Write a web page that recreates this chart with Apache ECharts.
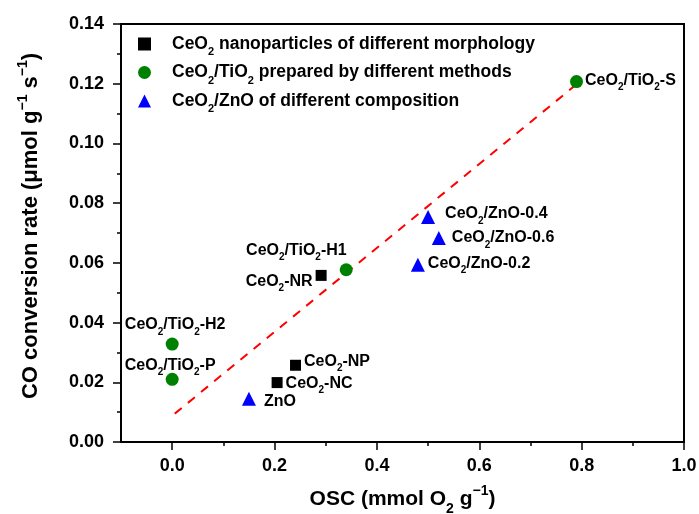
<!DOCTYPE html>
<html><head><meta charset="utf-8">
<script src="https://cdn.jsdelivr.net/npm/echarts@6/dist/echarts.min.js"></script>
<style>html,body{margin:0;padding:0;background:#fff}#c{width:699px;height:514px}</style>
</head><body><div id="c"></div>
<script>
// ---- data ----
const legendNames = ['CeO2 nanoparticles of different morphology', 'CeO2/TiO2 prepared by different methods', 'CeO2/ZnO of different composition'];
const squareNames = ['CeO2-NR', 'CeO2-NP', 'CeO2-NC'];
const squareX = [0.291, 0.241, 0.205];
const squareY = [0.0558, 0.0257, 0.0199];
const circleNames = ['CeO2/TiO2-H1', 'CeO2/TiO2-H2', 'CeO2/TiO2-P', 'CeO2/TiO2-S'];
const circleX = [0.340, 0.0, 0.0, 0.790];
const circleY = [0.0577, 0.0328, 0.0210, 0.1207];
const triNames = ['ZnO', 'CeO2/ZnO-0.4', 'CeO2/ZnO-0.6', 'CeO2/ZnO-0.2'];
const triX = [0.150, 0.500, 0.521, 0.480];
const triY = [0.0145, 0.0754, 0.0683, 0.0594];
const fitX = [0.005, 0.790];
const fitY = [0.0095, 0.1198];
const xTickValues = [0.0, 0.2, 0.4, 0.6, 0.8, 1.0];
const xMinorTickValues = [0.1, 0.3, 0.5, 0.7, 0.9];
const xTitle = 'OSC (mmol O2 g−1)';
const yTitle = 'CO conversion rate (μmol g−1 s−1)';

// ---- styles ----
const FONT = '"Liberation Sans", Arial, sans-serif';
function richStyles(size, lh, subShift, supH) {
  return {
    b: {fontSize: size, fontWeight: 'bold', fontFamily: FONT, color: '#000', lineHeight: lh},
    s: {fontSize: Math.round(size * 0.65), fontWeight: 'bold', fontFamily: FONT, color: '#000', verticalAlign: 'bottom', height: subShift || 4},
    p: {fontSize: Math.round(size * 0.65), fontWeight: 'bold', fontFamily: FONT, color: '#000', verticalAlign: 'top', height: supH || 8},
    g: {width: 16}
  };
}
function richify(t) {
  let s = '{b|' + t.replace(/O2/g, 'O}{s|2}{b|').replace(/−1/g, '}{p|−1}{b|') + '}';
  return s.replace(/\{b\|\}/g, '');
}
const labelCfg = {
  'CeO2-NR': {position: 'left', distance: 3, offset: [0, 6]},
  'CeO2-NP': {position: 'right', distance: 3, offset: [0, -4]},
  'CeO2-NC': {position: 'right', distance: 3, offset: [0, 1]},
  'CeO2/TiO2-H1': {position: 'left', distance: 5, offset: [12, -19]},
  'CeO2/TiO2-H2': {position: 'inside', offset: [3, -19]},
  'CeO2/TiO2-P': {position: 'inside', offset: [-2, -14]},
  'CeO2/TiO2-S': {position: 'right', distance: 2, offset: [0, -1]},
  'ZnO': {position: 'right', distance: 8, offset: [0, 3]},
  'CeO2/ZnO-0.4': {position: 'right', distance: 10, offset: [0, -3]},
  'CeO2/ZnO-0.6': {position: 'right', distance: 6, offset: [0, 0]},
  'CeO2/ZnO-0.2': {position: 'right', distance: 3, offset: [0, -1]}
};
const labelRich = richStyles(16, 18);
function pts(names, xs, ys) {
  return names.map((n, i) => ({
    name: n, value: [xs[i], ys[i]],
    label: Object.assign({show: true, formatter: richify(n), rich: labelRich}, labelCfg[n])
  }));
}

const chart = echarts.init(document.getElementById('c'), null, {renderer: 'canvas'});
const axisLine = {show: true, onZero: false, lineStyle: {color: '#000', width: 2}};
const tickFont = {color: '#000', fontWeight: 'bold', fontSize: 18, fontFamily: FONT};
chart.setOption({
  animation: false,
  backgroundColor: '#fff',
  grid: {left: 121, right: 15, top: 24, bottom: 72, show: true, borderColor: '#000', borderWidth: 2,
         containLabel: false, outerBoundsMode: 'none'},
  legend: {
    orient: 'vertical', left: 133, top: 30, itemGap: 6, itemWidth: 13, itemHeight: 13,
    data: [{name: legendNames[0], icon: 'rect'}, {name: legendNames[1], icon: 'circle'}, {name: legendNames[2], icon: 'triangle'}],
    formatter: n => '{g| }' + richify(n),
    textStyle: {rich: richStyles(17.5, 20)}
  },
  xAxis: [{
    type: 'value', min: -0.1, max: 1.0, position: 'bottom',
    axisLine: axisLine, splitLine: {show: false},
    axisTick: {show: true, inside: false, length: 8, lineStyle: {color: '#000', width: 1.5}, customValues: xTickValues},
    axisLabel: Object.assign({customValues: xTickValues, formatter: v => v.toFixed(1), margin: 15}, tickFont),
    name: richify(xTitle), nameLocation: 'middle', nameGap: 44,
    nameTextStyle: {rich: richStyles(21, 26, 5, 10)}
  }, {
    type: 'value', min: -0.1, max: 1.0, position: 'bottom', gridIndex: 0,
    axisLine: {show: false, onZero: false}, splitLine: {show: false}, axisLabel: {show: false},
    axisTick: {show: true, inside: false, length: 4, lineStyle: {color: '#000', width: 1.5}, customValues: xMinorTickValues}
  }],
  yAxis: {
    type: 'value', min: 0, max: 0.14, interval: 0.02,
    axisLine: axisLine, splitLine: {show: false},
    axisTick: {show: true, inside: false, length: 8, lineStyle: {color: '#000', width: 1.5}},
    minorTick: {show: true, splitNumber: 2, length: 4, lineStyle: {color: '#000', width: 1.5}},
    axisLabel: Object.assign({formatter: v => v.toFixed(2), margin: 17}, tickFont),
    name: richify(yTitle), nameLocation: 'middle', nameGap: 77, nameRotate: 90,
    nameTextStyle: {rich: richStyles(22, 26, 5, 10), padding: [0, 0, 0, 14]}
  },
  series: [
    {name: 'fit', type: 'line', data: fitX.map((x, i) => [x, fitY[i]]), symbol: 'none', silent: true,
     lineStyle: {color: '#ff0000', width: 2, type: [9, 8]}, z: 1},
    {name: legendNames[0], type: 'scatter', symbol: 'rect', symbolSize: 11, itemStyle: {color: '#000', opacity: 1}, data: pts(squareNames, squareX, squareY), z: 3},
    {name: legendNames[1], type: 'scatter', symbol: 'circle', symbolSize: 13, itemStyle: {color: '#008000', opacity: 1}, data: pts(circleNames, circleX, circleY), z: 3},
    {name: legendNames[2], type: 'scatter', symbol: 'triangle', symbolSize: 14, itemStyle: {color: '#0000ff', opacity: 1}, data: pts(triNames, triX, triY), z: 3}
  ]
});
</script></body></html>
